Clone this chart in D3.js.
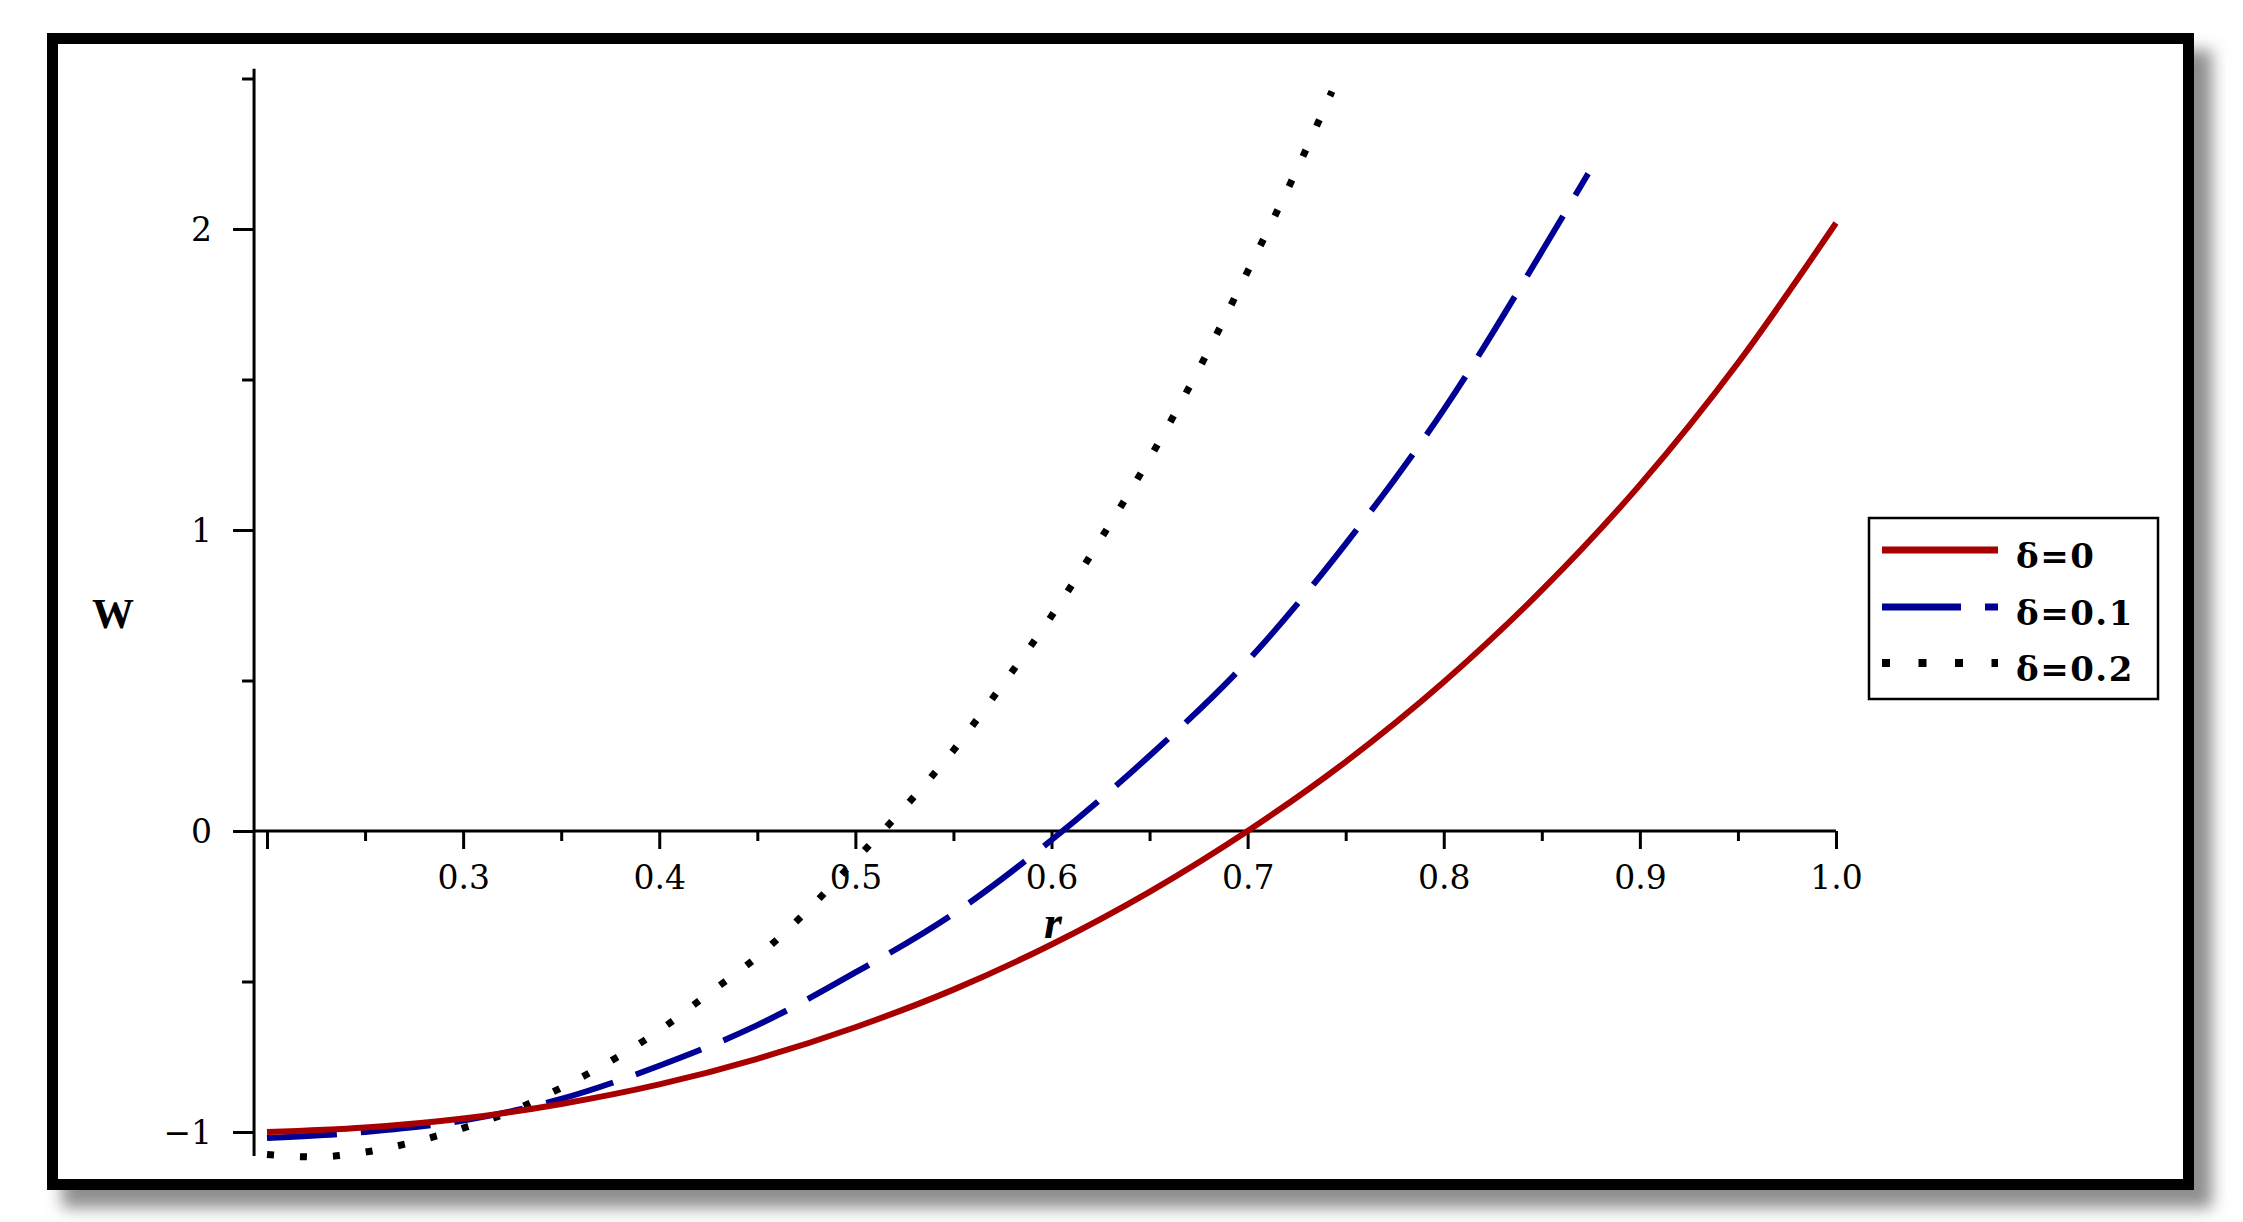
<!DOCTYPE html>
<html>
<head>
<meta charset="utf-8">
<script src="https://cdn.jsdelivr.net/npm/d3@7"></script>
<style>
  html, body { margin: 0; padding: 0; background: #ffffff; }
  svg { display: block; }
</style>
</head>
<body>
<script>
// ---------- data ----------
const rRed   = [0.2, 0.25, 0.3, 0.35, 0.4, 0.45, 0.5, 0.55, 0.6, 0.65, 0.7, 0.75, 0.8, 0.85, 0.9, 0.95, 1.0];
const wRed   = [-1.0, -0.985, -0.955, -0.907, -0.842, -0.757, -0.652, -0.527, -0.377, -0.202, 0.0, 0.23, 0.495, 0.80, 1.15, 1.555, 2.02];

const rBlue  = [0.2, 0.25, 0.3, 0.35, 0.4, 0.45, 0.5, 0.55, 0.6, 0.65, 0.7, 0.75, 0.8, 0.85, 0.8736];
const wBlue  = [-1.02, -1.0, -0.962, -0.89, -0.78, -0.645, -0.47, -0.275, -0.03, 0.25, 0.565, 0.954, 1.40, 1.925, 2.184];

const rBlack = [0.2, 0.225, 0.25, 0.275, 0.3, 0.325, 0.35, 0.375, 0.4, 0.425, 0.45, 0.475, 0.5, 0.525, 0.55, 0.575, 0.6, 0.625, 0.65, 0.675, 0.7, 0.725, 0.743];
const wBlack = [-1.075, -1.083, -1.067, -1.033, -0.987, -0.93, -0.853, -0.765, -0.663, -0.541, -0.418, -0.268, -0.096, 0.078, 0.268, 0.486, 0.714, 0.969, 1.238, 1.533, 1.859, 2.196, 2.457];

const seriesNames = ["δ=0", "δ=0.1", "δ=0.2"];
const xMajorTicks = [0.2, 0.3, 0.4, 0.5, 0.6, 0.7, 0.8, 0.9, 1.0];
const xMinorTicks = [0.25, 0.35, 0.45, 0.55, 0.65, 0.75, 0.85, 0.95];
const yMajorTicks = [-1, 0, 1, 2];
const yMinorTicks = [-0.5, 0.5, 1.5, 2.5];
const xLabel = "r";
const yLabel = "W";

// ---------- layout ----------
const W = 2243, H = 1222;
const svg = d3.select("body").append("svg").attr("width", W).attr("height", H);

const x = d3.scaleLinear().domain([0.2, 1.0]).range([267, 1836]);
const y = d3.scaleLinear().domain([-1, 2]).range([1132, 229]);
const yAxisAt = 0.1934;          // where the vertical axis crosses
const yTop = 2.532, yBottom = -1.08;

// shadow + frame
const defs = svg.append("defs");
defs.append("filter").attr("id", "sh").attr("x", "-5%").attr("y", "-5%").attr("width", "112%").attr("height", "115%")
  .append("feGaussianBlur").attr("stdDeviation", 8);
svg.append("rect").attr("x", 62).attr("y", 50).attr("width", 2150).attr("height", 1158)
  .attr("fill", "#8e8e8e").attr("filter", "url(#sh)");
svg.append("rect").attr("x", 52.5).attr("y", 38.5).attr("width", 2136).attr("height", 1146)
  .attr("fill", "#ffffff").attr("stroke", "#000").attr("stroke-width", 11);

const tickFont = "'DejaVu Serif', 'Liberation Serif', serif";

// ---------- axes ----------
svg.append("line").attr("x1", x(yAxisAt)).attr("x2", x(1.0)).attr("y1", y(0)).attr("y2", y(0))
  .attr("stroke", "#000").attr("stroke-width", 3);
svg.append("line").attr("x1", x(yAxisAt)).attr("x2", x(yAxisAt)).attr("y1", y(yTop)).attr("y2", y(yBottom))
  .attr("stroke", "#000").attr("stroke-width", 3);

const fmtX = d => (d === 0.2 ? "" : d3.format(".1f")(d));
const gxMaj = svg.append("g").attr("transform", `translate(0,${y(0)})`)
  .call(d3.axisBottom(x).tickValues(xMajorTicks).tickSize(18).tickSizeOuter(0).tickFormat(fmtX));
const gxMin = svg.append("g").attr("transform", `translate(0,${y(0)})`)
  .call(d3.axisBottom(x).tickValues(xMinorTicks).tickSize(10).tickSizeOuter(0).tickFormat(""));
const fmtY = d => (d < 0 ? "\u2212" + Math.abs(d) : String(d));
const gyMaj = svg.append("g").attr("transform", `translate(${x(yAxisAt)},0)`)
  .call(d3.axisLeft(y).tickValues(yMajorTicks).tickSize(21).tickSizeOuter(0).tickFormat(fmtY));
const gyMin = svg.append("g").attr("transform", `translate(${x(yAxisAt)},0)`)
  .call(d3.axisLeft(y).tickValues(yMinorTicks).tickSize(12).tickSizeOuter(0).tickFormat(""));

[gxMaj, gxMin, gyMaj, gyMin].forEach(g => {
  g.select(".domain").remove();
  g.selectAll(".tick line").attr("stroke", "#000").attr("stroke-width", 3);
  g.selectAll("text").attr("font-family", tickFont).attr("font-size", 33).attr("fill", "#000");
});
gxMaj.selectAll("text").attr("y", 58).attr("dy", null);
gyMaj.selectAll("text").attr("x", -42).attr("dy", null).attr("y", 11);

// axis labels
svg.append("text").attr("x", 113).attr("y", 628).attr("text-anchor", "middle")
  .attr("font-family", "'Liberation Serif', serif").attr("font-weight", "bold").attr("font-size", 42)
  .text(yLabel);
svg.append("text").attr("x", 1053).attr("y", 938).attr("text-anchor", "middle")
  .attr("font-family", "'Liberation Serif', serif").attr("font-style", "italic").attr("font-weight", "bold")
  .attr("font-size", 46).text(xLabel);

// ---------- curves ----------
const line = d3.line().x(d => x(d[0])).y(d => y(d[1])).curve(d3.curveMonotoneX);
const series = [
  { r: rRed,   w: wRed,   color: "#a80000", dash: null },
  { r: rBlue,  w: wBlue,  color: "#000094", dash: "70,24" },
  { r: rBlack, w: wBlack, color: "#000000", dash: "7,26" }
];
const drawOrder = [2, 1, 0];
drawOrder.forEach(i => {
  const s = series[i];
  svg.append("path")
    .datum(s.r.map((v, k) => [v, s.w[k]]))
    .attr("d", line)
    .attr("fill", "none")
    .attr("stroke", s.color)
    .attr("stroke-width", i === 2 ? 7 : 6)
    .attr("stroke-linecap", "butt")
    .attr("stroke-dasharray", s.dash);
});

// ---------- legend ----------
const lg = svg.append("g");
lg.append("rect").attr("x", 1869).attr("y", 518).attr("width", 289).attr("height", 181)
  .attr("fill", "#fff").attr("stroke", "#000").attr("stroke-width", 2.5);
const legY = [550, 607, 663];
series.forEach((s, i) => {
  lg.append("line").attr("x1", 1882).attr("x2", 1998).attr("y1", legY[i]).attr("y2", legY[i])
    .attr("stroke", s.color).attr("stroke-width", i === 2 ? 8 : 7)
    .attr("stroke-dasharray", i === 1 ? "79,24" : (i === 2 ? "8,28.5" : null));
  lg.append("text").attr("x", 2016).attr("y", legY[i] + 18)
    .attr("font-family", "'DejaVu Serif', serif").attr("font-weight", "bold").attr("font-size", 34)
    .attr("letter-spacing", 1.5)
    .text(seriesNames[i]);
});
</script>
</body>
</html>
